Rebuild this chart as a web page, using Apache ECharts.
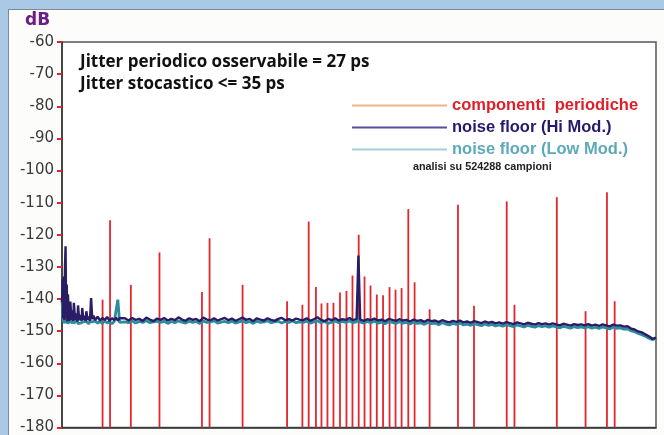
<!DOCTYPE html>
<html>
<head>
<meta charset="utf-8">
<script src="https://cdn.jsdelivr.net/npm/echarts@6/dist/echarts.min.js"></script>
<style>
  html, body { margin: 0; padding: 0; background: #a9c9e6; }
  #panel { position: absolute; left: 8px; top: 9px; width: 700px; height: 500px;
           background: #fcfcfa; border: 1.5px solid #7d8a96; }
  #chart { position: absolute; left: 0; top: 0; width: 664px; height: 435px; }
</style>
</head>
<body>
<div id="panel"></div>
<div id="chart"></div>
<script>
// Periodic jitter components: position on the frequency axis and peak level (dB)
const periodicFreq = [68.3, 80.9, 115.9, 164.1, 235.6, 248.4, 304, 378.9, 404.7, 415.3,
  427.5, 436.8, 446.9, 457, 468, 478.9, 489, 499.5, 509.3, 519.4,
  530, 540.5, 551.4, 561.5, 571.7, 583, 593.6, 618.9, 666.6, 693.6,
  748.7, 761.7, 833, 881.4, 917.4, 930.4];
const periodicLevel = [-140.2, -115.5, -135.6, -125.5, -137.8, -121.1, -135.6, -140.7, -141.8, -115.9,
  -136.3, -141.4, -141.2, -141.2, -138.0, -137.5, -132.7, -120.0, -133.0, -135.8,
  -138.6, -138.8, -136.3, -137.1, -136.6, -112.0, -134.8, -143.2, -110.7, -142.1,
  -109.6, -141.8, -108.3, -143.8, -106.8, -140.7];

// Noise floor sample positions (shared by both modulation cases)
const floorFreq = [0, 1, 2, 3, 4, 5, 6, 7, 8, 9, 10, 12, 14, 16, 17, 19, 20, 22, 24, 26,
  27, 29, 31, 33, 34, 36, 38, 40, 41, 43, 45, 47, 49, 51, 53, 56, 60, 64, 68, 72,
  76, 80, 84, 88, 91, 94, 97, 100,
  106, 112, 118, 124, 130, 136, 142, 148, 154, 160,
  166, 172, 178, 184, 190, 196, 202, 208, 214, 220,
  226, 232, 238, 244, 250, 256, 262, 268, 274, 280,
  286, 292, 298, 304, 310, 316, 322, 328, 334, 340,
  346, 352, 358, 364, 370, 376, 382, 388, 394, 400,
  406, 412, 418, 424, 430, 436, 442, 448, 454, 460,
  466, 472, 478, 484, 490, 496, 499, 502, 508, 514,
  520, 526, 532, 538, 544, 550, 556, 562, 568, 574,
  580, 586, 592, 598, 604, 610, 616, 622, 628, 634,
  640, 646, 652, 658, 664, 670, 676, 682, 688, 694,
  700, 706, 712, 718, 724, 730, 736, 742, 748, 754,
  760, 766, 772, 778, 784, 790, 796, 802, 808, 814,
  820, 826, 832, 838, 844, 850, 856, 862, 868, 874,
  880, 886, 892, 898, 904, 910, 916, 922, 928, 934,
  940, 946, 952, 958, 964, 970, 976, 982, 988, 994,
  1000];

// Noise floor, high modulation (dB)
const hiModFloor = [-141, -134, -146, -133, -146.5, -130, -123.6, -146, -135.5, -147,
  -138.5, -146.8, -140.8, -146.5, -143.5, -146.8, -141.2, -146.5, -144.5, -147,
  -142, -146.6, -145, -146.8, -142.8, -146.4, -145.2, -146.9, -143.8, -146.5,
  -145.5, -146.8, -139.7, -146.3, -145.2, -146.6, -145.5, -146.7, -145.9, -146.5,
  -145.6, -146.8, -146.0, -146.5, -145.8, -146.7, -146.0, -146.4,
  -146.0, -146.7, -145.9, -146.5, -146.2, -146.8, -145.8, -146.4, -146.9, -146.1,
  -146.5, -145.9, -146.7, -146.2, -146.6, -145.7, -146.4, -146.8, -146.0, -146.5,
  -146.2, -146.9, -145.8, -146.4, -146.6, -146.0, -146.7, -146.3, -145.9, -146.6,
  -146.1, -146.8, -146.3, -145.8, -146.5, -146.2, -146.9, -146.0, -146.4, -146.7,
  -146.0, -146.5, -146.8, -146.2, -145.9, -146.6, -146.3, -146.7, -146.1, -146.4,
  -146.6, -146.0, -146.8, -146.3, -145.7, -146.5, -146.9, -146.2, -146.6, -146.0,
  -146.7, -146.3, -146.5, -145.9, -146.6, -146.2, -126.5, -146.4, -146.8, -146.3,
  -146.6, -146.1, -146.7, -146.4, -146.9, -146.2, -146.5, -146.8, -146.3, -146.7,
  -146.5, -147.0, -146.4, -146.8, -146.6, -147.1, -146.5, -146.9, -146.7, -147.2,
  -146.6, -147.0, -147.3, -146.8, -147.1, -146.7, -147.3, -147.0, -147.4, -146.9,
  -147.2, -147.5, -147.0, -147.4, -147.1, -147.6, -147.3, -147.7, -147.2, -147.5,
  -147.8, -147.3, -147.6, -147.9, -147.4, -147.7, -148.0, -147.5, -147.8, -147.6,
  -148.0, -147.6, -147.9, -148.2, -147.7, -148.0, -148.3, -147.8, -148.1, -147.9,
  -148.2, -147.8, -148.3, -148.0, -148.4, -147.9, -148.2, -148.5, -148.0, -148.3,
  -148.2, -148.6, -148.5, -149.2, -149.5, -150.1, -150.4, -151.0, -151.6, -152.4,
  -152.0];

// Noise floor, low modulation (dB)
const lowModFloor = [-140.5, -143, -147.2, -142, -147.6, -144, -147.4, -145, -147.6, -146,
  -147.7, -146.6, -147.4, -146.5, -147.6, -146.8, -147.7, -146.9, -147.5, -147.0,
  -147.7, -147.2, -147.5, -147.0, -147.8, -147.1, -147.6, -146.9, -147.5, -147.2,
  -147.7, -147.0, -147.5, -147.1, -147.7, -146.9, -147.5, -147.0, -147.6, -146.8,
  -147.5, -147.1, -147.7, -147.0, -147.4, -140.2, -147.3, -146.9,
  -147.1, -147.4, -146.8, -147.5, -147.0, -147.3, -146.7, -147.4, -147.1, -146.9,
  -147.3, -146.9, -147.6, -147.0, -147.4, -146.8, -147.2, -147.5, -146.9, -147.3,
  -147.0, -147.6, -146.9, -147.3, -147.1, -146.8, -147.5, -147.2, -147.0, -147.4,
  -146.9, -147.5, -147.1, -146.8, -147.4, -147.0, -147.6, -146.9, -147.3, -147.1,
  -146.8, -147.4, -147.1, -146.9, -147.5, -147.0, -147.3, -146.8, -147.4, -147.1,
  -147.3, -146.9, -147.5, -147.1, -146.8, -147.4, -147.0, -147.6, -147.2, -146.9,
  -147.4, -147.0, -147.3, -146.8, -147.4, -147.1, -145.3, -147.2, -147.5, -147.0,
  -147.4, -146.9, -147.5, -147.2, -147.7, -147.0, -147.3, -147.6, -147.1, -147.5,
  -147.3, -147.8, -147.2, -147.6, -147.4, -147.9, -147.3, -147.7, -147.5, -148.0,
  -147.4, -147.8, -148.1, -147.6, -147.9, -147.5, -148.1, -147.8, -148.2, -147.7,
  -148.0, -148.3, -147.8, -148.2, -147.9, -148.4, -148.1, -148.5, -148.0, -148.3,
  -148.6, -148.1, -148.4, -148.7, -148.2, -148.5, -148.8, -148.3, -148.6, -148.4,
  -148.8, -148.4, -148.7, -149.0, -148.5, -148.8, -149.1, -148.6, -148.9, -148.7,
  -149.0, -148.6, -149.1, -148.8, -149.2, -148.7, -149.0, -149.3, -148.8, -149.1,
  -149.0, -149.4, -149.3, -149.9, -150.2, -150.7, -151.1, -151.6, -152.2, -152.7,
  -152.3];

// Vertical axis range and notes
const levelMin = -180, levelMax = -60, levelStep = 10;
const seriesNames = ['componenti  periodiche', 'noise floor (Hi Mod.)', 'noise floor (Low Mod.)'];
const notes = 'Jitter periodico osservabile = 27 ps\nJitter stocastico <= 35 ps';
const sampleNote = 'analisi su 524288 campioni';

const chart = echarts.init(document.getElementById('chart'), null, { renderer: 'canvas' });

const pairs = (xs, ys) => xs.map((x, i) => [x, ys[i]]);

chart.setOption({
  animation: false,
  backgroundColor: 'transparent',
  title: {
    text: notes,
    left: 75, top: 46,
    textStyle: { fontFamily: 'Open Sans', fontWeight: 'bold', fontSize: 17, color: '#111', lineHeight: 22 }
  },
  legend: {
    orient: 'vertical',
    left: 347, top: 92,
    icon: 'rect',
    itemWidth: 95, itemHeight: 2,
    itemGap: 5,
    textStyle: { fontFamily: 'Liberation Sans', fontWeight: 'bold', fontSize: 16.5, lineHeight: 17 },
    selectedMode: false,
    data: [
      { name: seriesNames[0], itemStyle: { color: '#f2b28a' }, textStyle: { color: '#e01e28' } },
      { name: seriesNames[1], itemStyle: { color: '#5a4c9e' }, textStyle: { color: '#24196c' } },
      { name: seriesNames[2], itemStyle: { color: '#a4d2d6' }, textStyle: { color: '#5caab8' } }
    ]
  },
  graphic: [
    { type: 'text', left: 25, top: 12,
      style: { text: 'dB', fill: '#6c1d86', font: 'bold 17px "DejaVu Sans"' } },
    { type: 'text', left: 413, top: 162,
      style: { text: sampleNote, fill: '#222', font: 'bold 10.8px "Liberation Sans"' } }
  ],
  grid: {
    left: 62, right: 8, top: 42, bottom: 7,
    show: true, backgroundColor: '#ffffff', borderColor: '#555', borderWidth: 1.5
  },
  xAxis: {
    type: 'value', min: 0, max: 1000,
    axisLine: { show: true, lineStyle: { color: '#333', width: 1.5 } },
    axisTick: { show: false }, axisLabel: { show: false }, splitLine: { show: false }
  },
  yAxis: {
    type: 'value', min: levelMin, max: levelMax, interval: levelStep,
    axisLine: { show: true, lineStyle: { color: '#333', width: 1.5 } },
    axisTick: { show: true, inside: false, length: 5, lineStyle: { color: '#e0222a', width: 2 } },
    axisLabel: { color: '#3a3a3a', fontSize: 15, fontFamily: 'DejaVu Sans', margin: 8 },
    splitLine: { show: false }
  },
  series: [
    {
      name: seriesNames[0],
      type: 'custom',
      z: 1,
      itemStyle: { color: '#e3252d' },
      encode: { x: 0, y: 1 },
      data: pairs(periodicFreq, periodicLevel),
      renderItem: function (params, api) {
        const x = api.value(0);
        const top = api.coord([x, api.value(1)]);
        const base = api.coord([x, levelMin]);
        return {
          type: 'line',
          shape: { x1: base[0], y1: base[1], x2: top[0], y2: top[1] },
          style: { stroke: api.visual('color'), lineWidth: 1.8 }
        };
      }
    },
    {
      name: seriesNames[2],
      type: 'line',
      z: 2,
      showSymbol: false, symbol: 'none',
      color: '#2c8c9e',
      lineStyle: { color: '#2c8c9e', width: 2.8 },
      data: pairs(floorFreq, lowModFloor)
    },
    {
      name: seriesNames[1],
      type: 'line',
      z: 3,
      showSymbol: false, symbol: 'none',
      color: '#2a1d66',
      lineStyle: { color: '#2a1d66', width: 2.4 },
      data: pairs(floorFreq, hiModFloor)
    }
  ]
});
</script>
</body>
</html>
